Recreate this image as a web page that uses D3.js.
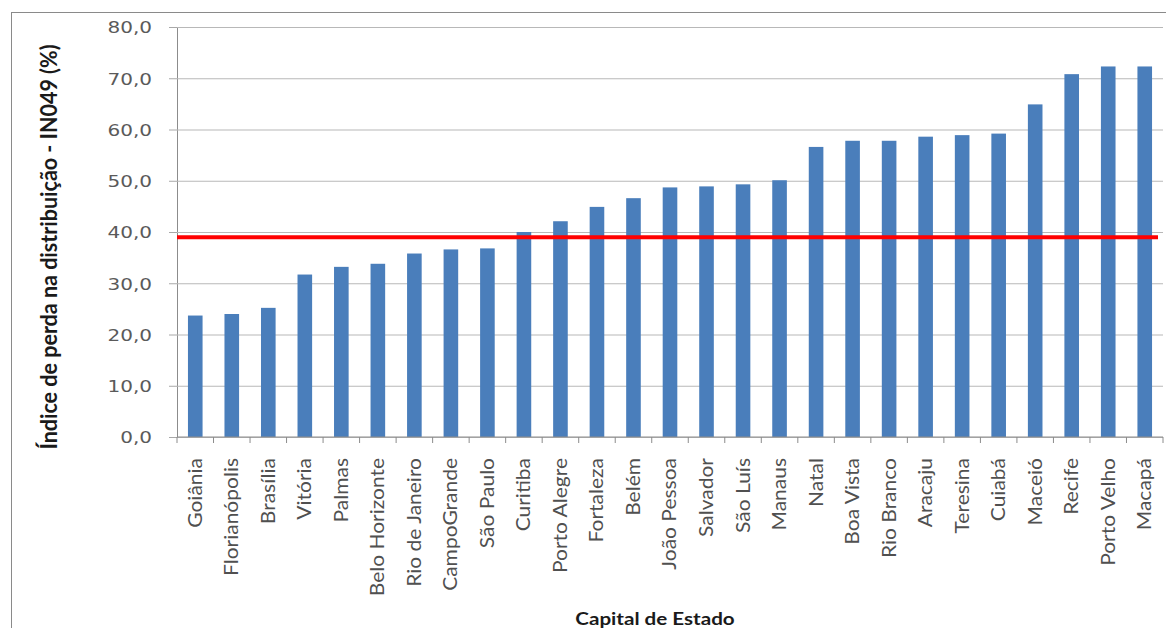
<!DOCTYPE html>
<html>
<head>
<meta charset="utf-8">
<script src="https://cdn.jsdelivr.net/npm/d3@7"></script>
<style>
  html, body { margin: 0; padding: 0; background: #fff; }
  svg { display: block; }
</style>
</head>
<body>
<svg id="chart" width="1166" height="628"></svg>
<script>
// Capitais ordenadas pelo índice de perda na distribuição (IN049, %)
const capitais = [
  "Goiânia", "Florianópolis", "Brasília", "Vitória", "Palmas", "Belo Horizonte",
  "Rio de Janeiro", "CampoGrande", "São Paulo", "Curitiba", "Porto Alegre",
  "Fortaleza", "Belém", "João Pessoa", "Salvador", "São Luís", "Manaus",
  "Natal", "Boa Vista", "Rio Branco", "Aracaju", "Teresina", "Cuiabá",
  "Maceió", "Recife", "Porto Velho", "Macapá"
];
const perdas = [
  23.7, 24.0, 25.2, 31.7, 33.2, 33.8,
  35.8, 36.6, 36.8, 40.0, 42.1,
  44.9, 46.6, 48.7, 48.9, 49.3, 50.1,
  56.6, 57.8, 57.8, 58.6, 58.9, 59.2,
  64.9, 70.8, 72.3, 72.3
];
const mediaNacional = 39.0;
const yTicks = [0, 10, 20, 30, 40, 50, 60, 70, 80];
const yTitle = "Índice de perda na distribuição - IN049 (%)";
const xTitle = "Capital de Estado";

const svg = d3.select("#chart");
const W = 1166, H = 628;
const sx = 1.25;       // horizontal stretch of tick numbers and x title
const sxYTitle = 1.02; // stretch across the rotated y title
const sxLabel = 0.88;  // category labels are set in a narrower face

const plot = { left: 177, right: 1163, top: 27, bottom: 437 };

// chart frame
svg.append("rect")
  .attr("x", 11.5).attr("y", 12.5)
  .attr("width", W + 20).attr("height", H + 20)
  .attr("fill", "#fff")
  .attr("stroke", "#8a8a8a")
  .attr("stroke-width", 1);

const x = d3.scaleBand()
  .domain(capitais)
  .range([plot.left, plot.right])
  .paddingInner(0.6)
  .paddingOuter(0.3);

const y = d3.scaleLinear()
  .domain([0, 80])
  .range([plot.bottom, plot.top]);

const fmt = v => d3.format(".1f")(v).replace(".", ",");

// gridlines + left axis
const yAxis = svg.append("g")
  .attr("transform", `translate(${plot.left},0)`)
  .call(d3.axisLeft(y)
    .tickValues(yTicks)
    .tickSize(8)
    .tickFormat(fmt));
yAxis.select(".domain").attr("stroke", "#8c8c8c");
yAxis.selectAll(".tick line").attr("stroke", "#a8a8a8");
yAxis.selectAll(".tick").append("line")
  .attr("x1", 0).attr("x2", plot.right - plot.left)
  .attr("stroke", "#b8b8b8").attr("stroke-width", 1.2);
yAxis.selectAll(".tick text")
  .attr("x", -25 / sx)
  .attr("dy", "0.36em")
  .attr("transform", `scale(${sx},1)`)
  .attr("fill", "#5a5a5a")
  .style("font-family", "'DejaVu Sans', Verdana, sans-serif")
  .style("font-size", "16px");

// bars
svg.append("g")
  .selectAll("rect")
  .data(capitais)
  .join("rect")
  .attr("x", d => x(d))
  .attr("width", x.bandwidth())
  .attr("y", (d, i) => y(perdas[i]))
  .attr("height", (d, i) => y(0) - y(perdas[i]))
  .attr("fill", "#4a7ebb");

// bottom axis line and boundary ticks
const step = x.step();
const bAxis = svg.append("g");
bAxis.append("line")
  .attr("x1", plot.left).attr("x2", plot.right)
  .attr("y1", y(0)).attr("y2", y(0))
  .attr("stroke", "#8c8c8c");
bAxis.selectAll("line.tk")
  .data(d3.range(capitais.length + 1))
  .join("line")
  .attr("class", "tk")
  .attr("x1", i => x(capitais[0]) - step * x.paddingOuter() + i * step)
  .attr("x2", i => x(capitais[0]) - step * x.paddingOuter() + i * step)
  .attr("y1", y(0)).attr("y2", y(0) + 6)
  .attr("stroke", "#8c8c8c");

// average line
svg.append("line")
  .attr("x1", plot.left).attr("x2", plot.right - 5)
  .attr("y1", y(mediaNacional)).attr("y2", y(mediaNacional))
  .attr("stroke", "#ff0000")
  .attr("stroke-width", 4);

// category labels
svg.append("g")
  .selectAll("text")
  .data(capitais)
  .join("text")
  .attr("transform", d => `translate(${x(d) + x.bandwidth() / 2},${y(0) + 21}) scale(${sxLabel},1) rotate(-90)`)
  .attr("text-anchor", "end")
  .attr("dy", "0.35em")
  .attr("fill", "#505050")
  .style("font-family", "Lato, 'Open Sans', sans-serif")
  .style("font-size", "21px")
  .text(d => d);

// axis titles
svg.append("text")
  .attr("transform", `translate(49,247) scale(${sxYTitle},1) rotate(-90)`)
  .attr("text-anchor", "middle")
  .attr("dy", "0.35em")
  .attr("fill", "#1a1a1a")
  .style("font-family", "Lato, sans-serif")
  .style("font-weight", "bold")
  .style("font-size", "21.5px")
  .text(yTitle);

svg.append("text")
  .attr("transform", `translate(655,625) scale(${sx},1)`)
  .attr("text-anchor", "middle")
  .attr("fill", "#1a1a1a")
  .style("font-family", "Lato, sans-serif")
  .style("font-weight", "bold")
  .style("font-size", "16.5px")
  .text(xTitle);
</script>
</body>
</html>
